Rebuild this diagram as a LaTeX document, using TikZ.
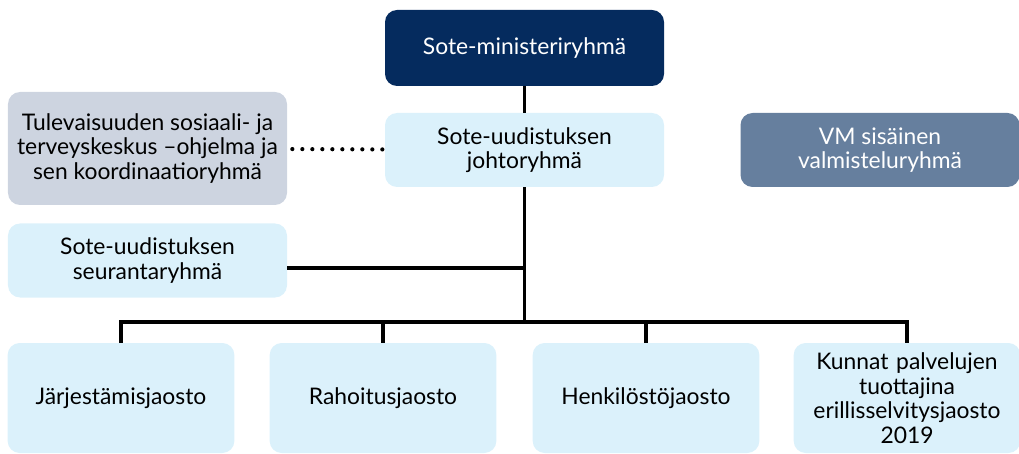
\documentclass[tikz,border=0pt]{standalone}
\usepackage{fontspec}
\setmainfont{Lato}
\definecolor{navy}{HTML}{052B5E}
\definecolor{paleblue}{HTML}{DBF1FB}
\definecolor{greyblue}{HTML}{CDD4E0}
\definecolor{slate}{HTML}{667F9E}
\begin{document}
\begin{tikzpicture}
\tikzstyle{group} = [
 fill=paleblue,
 rounded corners=0.24cm,
 align=center,
 font=\fontsize{13}{14}\selectfont,
 minimum height=1.48cm,
 minimum width=5.58cm
]
\tikzstyle{section} = [
 group,
 minimum height=2.2cm,
 minimum width=4.52cm,
 text width=4.3cm
]
\tikzstyle{link} = [line width=1.9pt]
\useasboundingbox (0,0) rectangle (20.38,9.06);
\node[group,fill=navy,text=white,minimum height=1.52cm] at (10.49,8.10) (min) {Sote-ministeriryhmä};
\node[group] at (10.49,6.06) (joh) {Sote-uudistuksen\\johtoryhmä};
\node[group,fill=greyblue,minimum height=2.26cm] at (2.95,6.09) (tul) {Tulevaisuuden sosiaali- ja\\terveyskeskus –ohjelma ja\\sen koordinaatioryhmä};
\node[group,fill=slate,text=white] at (17.60,6.06) (vm) {VM sisäinen\\valmisteluryhmä};
\node[group] at (2.95,3.85) (seu) {Sote-uudistuksen\\seurantaryhmä};
\node[section] at (2.42,1.10) (jar) {Järjestämisjaosto};
\node[section] at (7.66,1.10) (rah) {Rahoitusjaosto};
\node[section] at (12.92,1.10) (hen) {Henkilöstöjaosto};
\node[section] at (18.14,1.10) (kun) {Kunnat palvelujen\\tuottajina\\erillisselvitysjaosto\\2019};
\coordinate (bus) at (10.49,2.62);

\path[draw,link] (min) -- (joh);
\path[draw,link] (joh) -- (bus);
\path[draw,link] ([yshift=-0.15cm]seu.east) -- ([yshift=-0.15cm]seu.east -| bus);
\path[draw,line width=2.4pt,line cap=round,dash pattern=on 0pt off 0.2cm,shorten <=0.1cm] (tul) -- (joh);
\foreach \n in {jar,rah,hen,kun}
  \path[draw,link] (bus) -| (\n.north);
\end{tikzpicture}
\end{document}
